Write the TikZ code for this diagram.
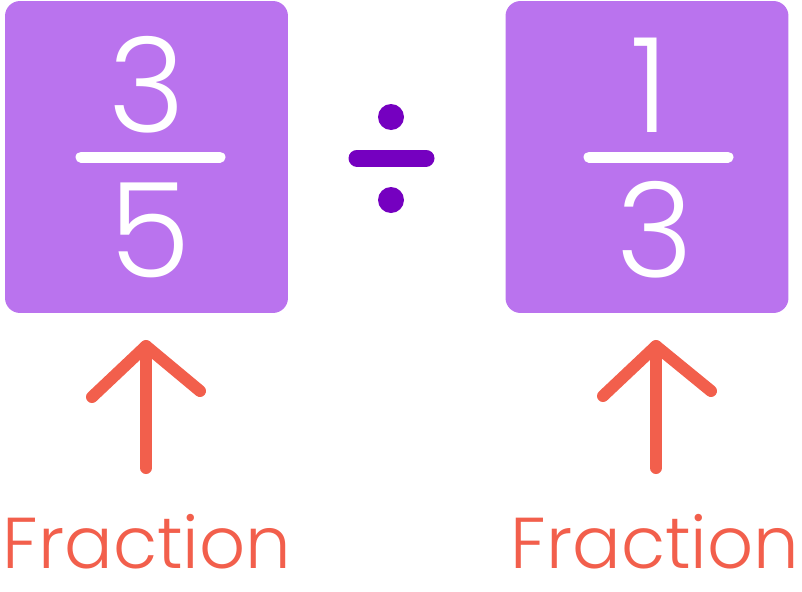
\documentclass[tikz,border=0pt]{standalone}
\usepackage{fontspec}
\setmainfont{Poppins}[UprightFont=* Light]
\usetikzlibrary{calc}
\definecolor{boxpurple}{RGB}{186,115,238}
\definecolor{divpurple}{RGB}{117,0,192}
\definecolor{arrowred}{RGB}{242,95,76}
\tikzset{
  fracbox/.style = {fill=boxpurple, rounded corners=0.3cm, minimum width=5.66cm, minimum height=6.24cm, inner sep=0pt},
  digit/.style = {text=white, anchor=base, inner sep=0pt, font=\fontsize{75}{75}\selectfont},
  fracbar/.style = {white, line width=0.22cm, line cap=round},
  arrowline/.style = {arrowred, line width=0.24cm, line cap=round, line join=round},
  label/.style = {text=arrowred, anchor=base, inner sep=0pt, font=\fontsize{41}{41}\selectfont}
}
\begin{document}
\begin{tikzpicture}[x=0.02cm, y=-0.02cm]
    \useasboundingbox (0,0) rectangle (802,592);
    % the two fractions
    \node [fracbox] (boxa) at (146.5,157) {};
    \node [fracbox] (boxb) at (647,157) {};
    \node [digit] (numa) at (147,132) {3};
    \node [digit] (dena) at (150,277) {5};
    \node [digit] (numb) at (650,132) {1};
    \node [digit] (denb) at (655,277) {3};
    \draw [fracbar] (81,157) -- (220,157);
    \draw [fracbar] (589,157) -- (728,157);
    % division sign
    \draw [divpurple, line width=0.34cm, line cap=round] (357,158) -- (426,158);
    \fill [divpurple] (391,117) circle [radius = 13];
    \fill [divpurple] (391,200) circle [radius = 13];
    % arrows
    \coordinate (tipa) at (146,346);
    \coordinate (taila) at (146,468);
    \coordinate (tipb) at (656,346);
    \coordinate (tailb) at (656,468);
    \draw [arrowline] (taila) -- (tipa);
    \draw [arrowline] ($(tipa)+(-54,51)$) -- (tipa) -- ($(tipa)+(54,45)$);
    \draw [arrowline] (tailb) -- (tipb);
    \draw [arrowline] ($(tipb)+(-53,50)$) -- (tipb) -- ($(tipb)+(55,45)$);
    % labels
    \node [label] (laba) at (147,568) {Fraction};
    \node [label] (labb) at (655,568) {Fraction};
\end{tikzpicture}
\end{document}
